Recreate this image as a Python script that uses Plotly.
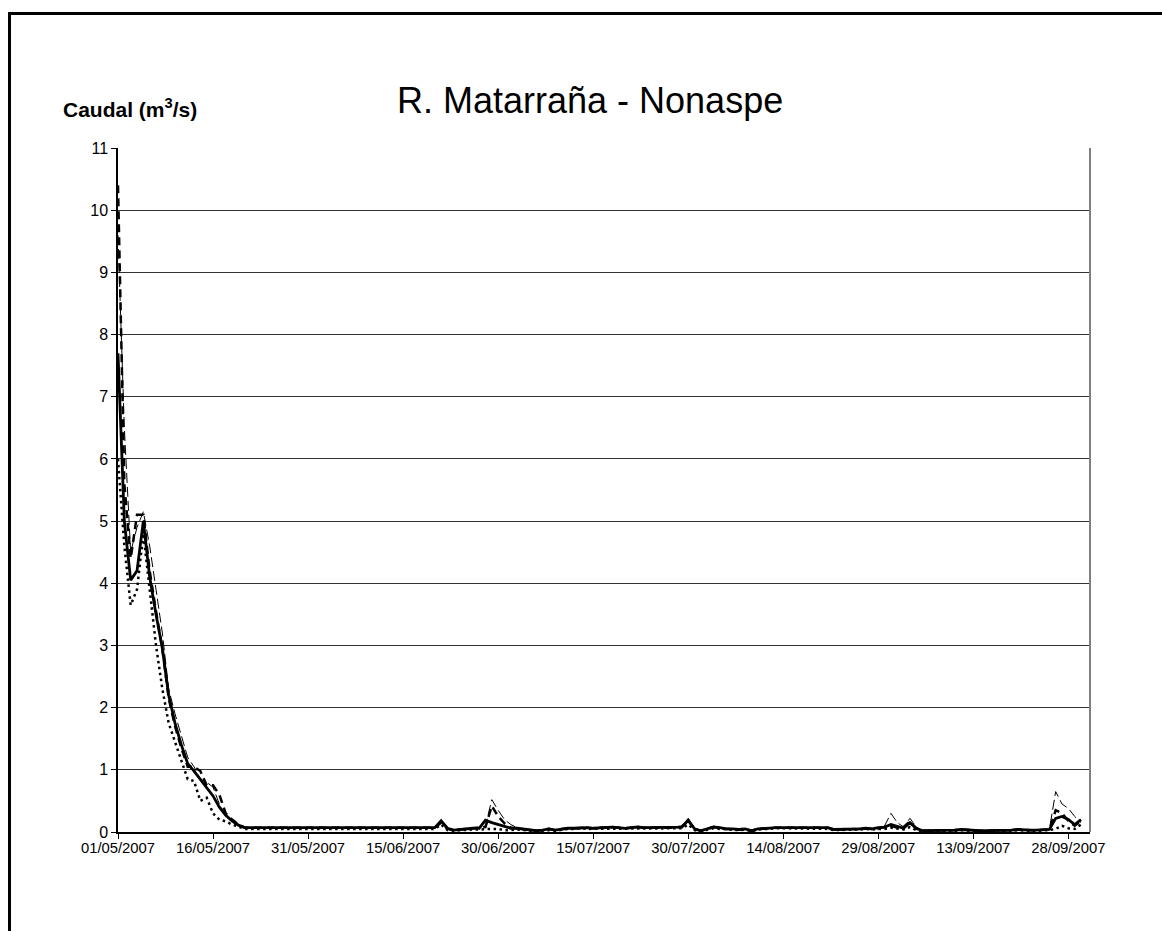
import pandas as pd
import plotly.graph_objects as go

# Daily dates, 1 May - 30 Sep 2007
fechas = pd.date_range("2007-05-01", "2007-09-30", freq="D")

# Caudal diario (m3/s) - serie principal (linea continua gruesa)
caudal_medio = [
    7.7, 5.0, 4.05, 4.2, 5.0, 4.1, 3.5, 2.95, 2.2, 1.75,
    1.4, 1.1, 0.98, 0.85, 0.72, 0.58, 0.4, 0.27, 0.18, 0.11,
    0.07, 0.07, 0.07, 0.07, 0.07, 0.07, 0.07, 0.07, 0.07, 0.07,
    0.07, 0.07, 0.07, 0.07, 0.07, 0.07, 0.07, 0.07, 0.07, 0.07,
    0.07, 0.07, 0.07, 0.07, 0.07, 0.07, 0.07, 0.07, 0.07, 0.07,
    0.07, 0.18, 0.06, 0.03, 0.04, 0.06, 0.06, 0.06, 0.19, 0.15,
    0.12, 0.08, 0.06, 0.06, 0.05, 0.03, 0.02, 0.03, 0.05, 0.03,
    0.05, 0.06, 0.06, 0.07, 0.07, 0.06, 0.07, 0.07, 0.08, 0.07,
    0.06, 0.07, 0.08, 0.07, 0.07, 0.08, 0.07, 0.08, 0.07, 0.08,
    0.19, 0.05, 0.02, 0.05, 0.08, 0.07, 0.05, 0.05, 0.04, 0.05,
    0.02, 0.05, 0.06, 0.07, 0.07, 0.07, 0.07, 0.07, 0.07, 0.07,
    0.07, 0.07, 0.07, 0.04, 0.04, 0.05, 0.04, 0.05, 0.06, 0.05,
    0.07, 0.08, 0.12, 0.09, 0.06, 0.15, 0.06, 0.02, 0.02, 0.02,
    0.02, 0.03, 0.03, 0.04, 0.03, 0.02, 0.02, 0.02, 0.02, 0.02,
    0.03, 0.03, 0.04, 0.03, 0.03, 0.03, 0.03, 0.04, 0.22, 0.25,
    0.2, 0.12, 0.2,
]

# Caudal maximo diario (discontinua gruesa)
caudal_max = [
    10.4, 5.6, 4.4, 5.1, 5.1, 4.2, 3.55, 2.95, 2.15, 1.7,
    1.35, 1.05, 1.05, 0.98, 0.75, 0.75, 0.6, 0.3, 0.2, 0.12,
    0.07, 0.07, 0.07, 0.07, 0.07, 0.07, 0.07, 0.07, 0.07, 0.07,
    0.07, 0.07, 0.07, 0.07, 0.07, 0.07, 0.07, 0.07, 0.07, 0.07,
    0.07, 0.07, 0.07, 0.07, 0.07, 0.07, 0.07, 0.07, 0.07, 0.07,
    0.07, 0.15, 0.05, 0.03, 0.04, 0.05, 0.06, 0.06, 0.08, 0.42,
    0.25, 0.14, 0.07, 0.06, 0.05, 0.03, 0.02, 0.03, 0.05, 0.03,
    0.05, 0.06, 0.06, 0.07, 0.07, 0.06, 0.07, 0.07, 0.08, 0.07,
    0.06, 0.07, 0.08, 0.07, 0.07, 0.08, 0.07, 0.08, 0.07, 0.09,
    0.18, 0.05, 0.02, 0.05, 0.08, 0.07, 0.05, 0.05, 0.04, 0.05,
    0.02, 0.05, 0.06, 0.07, 0.07, 0.07, 0.07, 0.07, 0.07, 0.07,
    0.07, 0.07, 0.07, 0.04, 0.04, 0.05, 0.04, 0.05, 0.06, 0.05,
    0.06, 0.08, 0.1, 0.07, 0.08, 0.17, 0.05, 0.02, 0.02, 0.02,
    0.02, 0.03, 0.03, 0.04, 0.03, 0.02, 0.02, 0.02, 0.02, 0.02,
    0.03, 0.03, 0.04, 0.03, 0.03, 0.03, 0.03, 0.04, 0.35, 0.3,
    0.18, 0.1, 0.18,
]

# Caudal minimo diario (punteada)
caudal_min = [
    6.0, 4.6, 3.65, 3.9, 4.8, 3.9, 3.0, 2.3, 1.75, 1.45,
    1.15, 0.85, 0.82, 0.5, 0.55, 0.3, 0.2, 0.17, 0.12, 0.08,
    0.05, 0.05, 0.05, 0.05, 0.05, 0.05, 0.05, 0.05, 0.05, 0.05,
    0.05, 0.05, 0.05, 0.05, 0.05, 0.05, 0.05, 0.05, 0.05, 0.05,
    0.05, 0.05, 0.05, 0.05, 0.05, 0.05, 0.05, 0.05, 0.05, 0.05,
    0.05, 0.12, 0.03, 0.02, 0.03, 0.04, 0.04, 0.04, 0.05, 0.05,
    0.05, 0.03, 0.03, 0.04, 0.03, 0.02, 0.01, 0.02, 0.03, 0.02,
    0.04, 0.05, 0.05, 0.06, 0.05, 0.05, 0.06, 0.05, 0.06, 0.05,
    0.05, 0.06, 0.06, 0.05, 0.06, 0.06, 0.05, 0.06, 0.05, 0.06,
    0.12, 0.03, 0.01, 0.04, 0.06, 0.05, 0.04, 0.04, 0.03, 0.04,
    0.01, 0.04, 0.05, 0.06, 0.06, 0.06, 0.06, 0.06, 0.06, 0.06,
    0.06, 0.06, 0.05, 0.03, 0.03, 0.04, 0.03, 0.04, 0.05, 0.04,
    0.05, 0.05, 0.07, 0.05, 0.04, 0.08, 0.03, 0.01, 0.01, 0.01,
    0.01, 0.02, 0.02, 0.03, 0.02, 0.01, 0.01, 0.01, 0.01, 0.01,
    0.02, 0.02, 0.03, 0.02, 0.02, 0.02, 0.02, 0.03, 0.05, 0.1,
    0.06, 0.05, 0.12,
]

# Caudal instantaneo maximo (discontinua fina)
caudal_punta = [
    9.6, 6.5, 4.5, 4.9, 5.15, 4.6, 3.9, 3.2, 2.3, 1.9,
    1.55, 1.2, 1.05, 0.85, 0.8, 0.72, 0.45, 0.25, 0.2, 0.1,
    0.07, 0.07, 0.07, 0.07, 0.07, 0.07, 0.07, 0.07, 0.07, 0.07,
    0.07, 0.07, 0.07, 0.07, 0.07, 0.07, 0.07, 0.07, 0.07, 0.07,
    0.07, 0.07, 0.07, 0.07, 0.07, 0.07, 0.07, 0.07, 0.07, 0.07,
    0.07, 0.2, 0.06, 0.03, 0.05, 0.06, 0.06, 0.06, 0.1, 0.52,
    0.35, 0.2, 0.12, 0.07, 0.05, 0.03, 0.02, 0.04, 0.05, 0.03,
    0.05, 0.06, 0.07, 0.07, 0.08, 0.06, 0.07, 0.08, 0.08, 0.07,
    0.06, 0.08, 0.08, 0.07, 0.08, 0.08, 0.07, 0.09, 0.08, 0.09,
    0.22, 0.06, 0.02, 0.06, 0.09, 0.07, 0.05, 0.05, 0.04, 0.05,
    0.02, 0.05, 0.06, 0.07, 0.07, 0.07, 0.07, 0.07, 0.07, 0.07,
    0.07, 0.07, 0.07, 0.04, 0.04, 0.05, 0.04, 0.05, 0.06, 0.05,
    0.07, 0.1, 0.3, 0.15, 0.08, 0.22, 0.08, 0.02, 0.02, 0.02,
    0.02, 0.03, 0.03, 0.04, 0.03, 0.02, 0.02, 0.02, 0.02, 0.02,
    0.03, 0.03, 0.04, 0.03, 0.03, 0.03, 0.03, 0.04, 0.65, 0.45,
    0.38, 0.25, 0.15,
]

W, H = 1162, 931
L, R, T, B = 118, 72, 148, 99
PW, PH = W - L - R, H - T - B


def px_x(p):
    return (p - L) / PW


def px_y(p):
    return (H - B - p) / PH


FONT = "Arial, Liberation Sans, sans-serif"

fig = go.Figure()
fig.add_trace(go.Scatter(x=fechas, y=caudal_punta, mode="lines",
                         line=dict(color="black", width=1, dash="10px,4px")))
fig.add_trace(go.Scatter(x=fechas, y=caudal_min, mode="lines",
                         line=dict(color="black", width=2.5, dash="2.5px,3.5px")))
fig.add_trace(go.Scatter(x=fechas, y=caudal_max, mode="lines",
                         line=dict(color="black", width=2.5, dash="8px,5px")))
fig.add_trace(go.Scatter(x=fechas, y=caudal_medio, mode="lines",
                         line=dict(color="black", width=2.8)))

fig.update_layout(
    width=W, height=H,
    margin=dict(l=L, r=R, t=T, b=B, pad=0),
    paper_bgcolor="white", plot_bgcolor="white",
    showlegend=False,
    font=dict(family=FONT, color="black"),
    xaxis=dict(
        type="date",
        range=["2007-05-01", "2007-10-01 10:00"],
        tick0="2007-05-01", dtick=15 * 86400000,
        tickformat="%d/%m/%Y",
        ticks="outside", ticklen=5, tickcolor="black",
        ticklabelstandoff=-4,
        showline=True, linecolor="black", linewidth=1.5,
        showgrid=False, zeroline=False,
        tickfont=dict(size=14.8, family=FONT),
    ),
    yaxis=dict(
        range=[0, 11], dtick=1, tick0=0,
        ticks="outside", ticklen=5, tickcolor="black",
        showline=True, linecolor="black", linewidth=1.5,
        showgrid=True, gridcolor="#333333", gridwidth=1,
        zeroline=False,
        tickfont=dict(size=16, family=FONT),
    ),
)

# Right edge of the plot area
fig.add_shape(type="line", xref="paper", yref="paper", x0=1, x1=1, y0=0, y1=1,
              line=dict(color="#808080", width=2))

# Outer frame (top and left edges)
fig.add_shape(type="line", xref="paper", yref="paper",
              x0=px_x(9.5), x1=px_x(W + 5), y0=px_y(13.5), y1=px_y(13.5),
              line=dict(color="black", width=3))
fig.add_shape(type="line", xref="paper", yref="paper",
              x0=px_x(9.5), x1=px_x(9.5), y0=px_y(12), y1=px_y(H + 5),
              line=dict(color="black", width=3))

fig.add_annotation(text="R. Matarraña - Nonaspe", xref="paper", yref="paper",
                   x=px_x(590), y=px_y(100), xanchor="center", yanchor="middle",
                   showarrow=False, font=dict(size=36, family=FONT))
fig.add_annotation(text="<b>Caudal (m<sup>3</sup>/s)</b>", xref="paper", yref="paper",
                   x=px_x(61), y=px_y(108), xanchor="left", yanchor="middle",
                   showarrow=False, font=dict(size=21, family=FONT))

fig.write_html("out.html")
